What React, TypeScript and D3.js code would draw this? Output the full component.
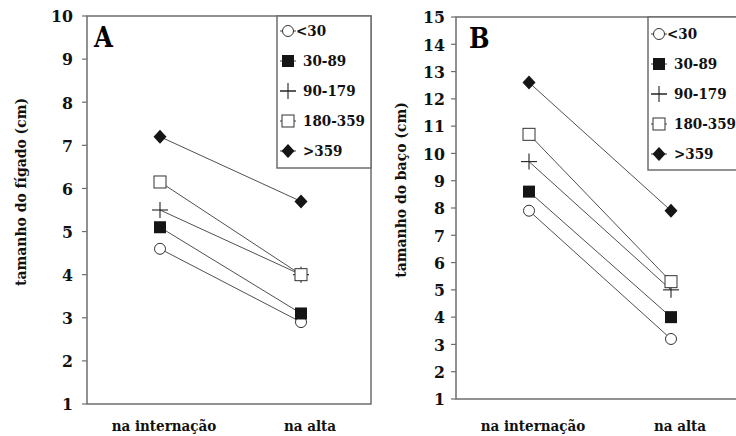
import React from "react";
import * as d3 from "d3";

// time points on the x axis
const categories = ["na internação", "na alta"];
// duration groups (legend)
const groups = ["<30", "30-89", "90-179", "180-359", ">359"];

// panel A: liver size (cm)
const liverAdmission = [4.6, 5.1, 5.5, 6.15, 7.2];
const liverDischarge = [2.9, 3.1, 4.0, 4.0, 5.7];
const liverTicks = [1, 2, 3, 4, 5, 6, 7, 8, 9, 10];

// panel B: spleen size (cm)
const spleenAdmission = [7.9, 8.6, 9.7, 10.7, 12.6];
const spleenDischarge = [3.2, 4.0, 5.0, 5.3, 7.9];
const spleenTicks = [1, 2, 3, 4, 5, 6, 7, 8, 9, 10, 11, 12, 13, 14, 15];

const textStyle = {
  fontFamily: "'DejaVu Serif', serif",
  fontStretch: "condensed",
  fontWeight: "bold",
};
const frameColor = "#6e6e6e";
const lineColor = "#505050";

const Marker = ({ kind, x, y }) => {
  switch (kind) {
    case 0:
      return <circle cx={x} cy={y} r={5.5} fill="#fff" stroke="#333" strokeWidth={1} />;
    case 1:
      return <rect x={x - 6} y={y - 6} width={12} height={12} fill="#151515" />;
    case 2:
      return (
        <g stroke="#222" strokeWidth={1.1}>
          <line x1={x - 8} x2={x + 8} y1={y} y2={y} />
          <line x1={x} x2={x} y1={y - 8} y2={y + 8} />
        </g>
      );
    case 3:
      return <rect x={x - 6} y={y - 6} width={12} height={12} fill="#fff" stroke="#333" strokeWidth={1} />;
    default:
      return <path d={`M${x},${y - 7}L${x + 6.5},${y}L${x},${y + 7}L${x - 6.5},${y}Z`} fill="#151515" />;
  }
};

const Panel = ({ letter, title, admission, discharge, ticks, box, xRange, legend, labelGap, titleX, letterPos }) => {
  const y = d3.scaleLinear().domain([ticks[0], ticks[ticks.length - 1]]).range([box.bottom, box.top]);
  const x = d3.scalePoint().domain(categories).range(xRange);
  const line = d3
    .line()
    .x((d) => x(d.cat))
    .y((d) => y(d.v));

  return (
    <g>
      <rect
        x={box.left}
        y={box.top}
        width={box.right - box.left}
        height={box.bottom - box.top}
        fill="none"
        stroke={frameColor}
        strokeWidth={1.5}
      />
      {ticks.map((t) => (
        <g key={t}>
          <line x1={box.left - 5} x2={box.left} y1={y(t)} y2={y(t)} stroke={frameColor} strokeWidth={1.2} />
          <text
            x={box.left - labelGap}
            y={y(t)}
            dy="0.36em"
            textAnchor="end"
            style={textStyle}
            fontSize={17.5}
            fill="#111"
          >
            {t}
          </text>
        </g>
      ))}
      {categories.map((c, i) => (
        <text
          key={c}
          x={x(c) + (i === 0 ? 4 : 9)}
          y={431}
          textAnchor="middle"
          style={textStyle}
          fontSize={15}
          fill="#111"
        >
          {c}
        </text>
      ))}
      <text
        transform={`translate(${titleX},${(box.top + box.bottom) / 2 - 18}) rotate(-90)`}
        textAnchor="middle"
        style={textStyle}
        fontSize={15.5}
        fill="#111"
      >
        {title}
      </text>
      <text x={letterPos[0]} y={letterPos[1]} style={textStyle} fontSize={27} fill="#000">
        {letter}
      </text>
      {groups.map((g, i) => (
        <path
          key={g}
          d={line([
            { cat: categories[0], v: admission[i] },
            { cat: categories[1], v: discharge[i] },
          ])}
          fill="none"
          stroke={lineColor}
          strokeWidth={1}
        />
      ))}
      {groups.map((g, i) => (
        <g key={g}>
          <Marker kind={i} x={x(categories[0])} y={y(admission[i])} />
          <Marker kind={i} x={x(categories[1])} y={y(discharge[i])} />
        </g>
      ))}
      <rect
        x={legend.x}
        y={box.top}
        width={legend.w}
        height={legend.bottom - box.top}
        fill="#fff"
        stroke={frameColor}
        strokeWidth={1.5}
      />
      {groups.map((g, i) => {
        const ly = legend.y0 + i * 30;
        const sx = legend.x + 11;
        return (
          <g key={g}>
            <line x1={sx - 8} x2={sx + 8} y1={ly} y2={ly} stroke="#444" strokeWidth={1} />
            <Marker kind={i} x={sx} y={ly} />
            <text
              x={sx + (i === 0 ? 8 : 15)}
              y={ly}
              dy="0.36em"
              style={textStyle}
              fontSize={15}
              fill="#111"
            >
              {g}
            </text>
          </g>
        );
      })}
    </g>
  );
};

export default function App() {
  return (
    <svg
      width={736}
      height={436}
      style={{ position: "absolute", left: 0, top: 0, background: "#fff" }}
    >
      <Panel
        letter="A"
        title="tamanho do fígado (cm)"
        admission={liverAdmission}
        discharge={liverDischarge}
        ticks={liverTicks}
        box={{ left: 87, right: 371, top: 16, bottom: 404 }}
        xRange={[160, 301]}
        legend={{ x: 277, w: 94, bottom: 168, y0: 31 }}
        labelGap={14}
        titleX={26}
        letterPos={[94, 47]}
      />
      <Panel
        letter="B"
        title="tamanho do baço (cm)"
        admission={spleenAdmission}
        discharge={spleenDischarge}
        ticks={spleenTicks}
        box={{ left: 456, right: 745, top: 17, bottom: 399 }}
        xRange={[529, 671]}
        legend={{ x: 648, w: 100, bottom: 170, y0: 34 }}
        labelGap={11}
        titleX={406}
        letterPos={[469, 48]}
      />
    </svg>
  );
}
